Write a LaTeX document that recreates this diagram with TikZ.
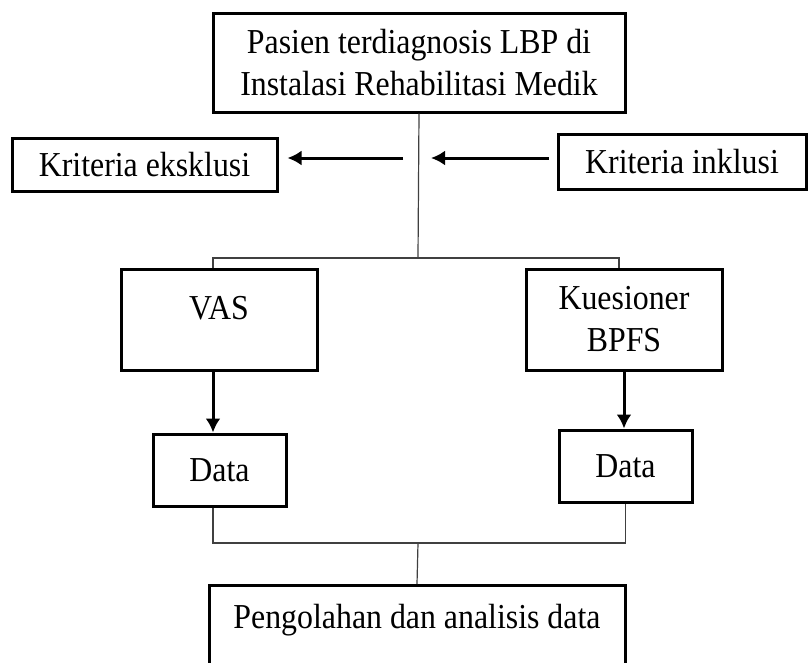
\documentclass[tikz,border=0pt]{standalone}
\usepackage{fontspec}
\setmainfont[FakeStretch=0.91]{Liberation Serif}
\usepackage{tikz}
\usetikzlibrary{shapes,arrows,positioning,calc}
\usetikzlibrary{arrows.meta}
\tikzset{>={Latex[width=15pt,length=14pt]}}

\begin{document}
\begin{tikzpicture}[x=1pt, y=-1pt, every node/.style={text centered, rectangle, draw, line width=3pt, align=center, font=\fontsize{35}{42}\selectfont}, thin line/.style={line width=1.2pt, black!75}, panah/.style={-{Latex[width=15pt,length=14pt]}, line width=3pt}]
    \clip (0,0) rectangle (812,662);
    \node[minimum width=412, minimum height=99] (pasien) at (419,62.5) {Pasien terdiagnosis LBP di\\Instalasi Rehabilitasi Medik};
    \node[minimum width=265, minimum height=53] (eksklusi) at (144.5,164.5) {Kriteria eksklusi};
    \node[minimum width=248, minimum height=55] (inklusi) at (682,161.5) {Kriteria inklusi};
    \node[minimum width=196, minimum height=101, text height=23pt, text depth=23pt] (vas) at (219,319.5) {VAS};
    \node[minimum width=196, minimum height=101] (bpfs) at (624,319.5) {Kuesioner\\BPFS};
    \node[minimum width=133, minimum height=72] (data0) at (219.5,470) {Data};
    \node[minimum width=133, minimum height=72] (data1) at (625.5,466) {Data};
    \node[anchor=north, minimum width=416, inner ysep=19pt, text height=24pt, text depth=80pt] (olah) at (417,584) {Pengolahan dan analisis data};

    \coordinate (cabang) at (418,258);
    \coordinate (kiri) at (213,258);
    \coordinate (kanan) at (619,258);
    \coordinate (gabung) at (418,543);
    \coordinate (ekor0) at (403,158);
    \coordinate (ujung1) at (431,158);

    \draw[thin line] (pasien.south) -- (cabang);
    \draw[thin line] (kiri |- vas.north) -- (kiri) -- (kanan) -- (kanan |- bpfs.north);
    \draw[panah, shorten >=9pt] (ekor0) -- (ekor0 -| eksklusi.east);
    \draw[panah, shorten <=8pt] (ujung1 -| inklusi.west) -- (ujung1);
    \draw[panah] (kiri |- vas.south) -- (kiri |- data0.north);
    \draw[panah] (bpfs.south) -- (bpfs.south |- data1.north);
    \draw[thin line] (kiri |- data0.south) -- (kiri |- gabung) -- (data1.south |- gabung) -- (data1.south);
    \draw[thin line] (gabung) -- (olah.north);
\end{tikzpicture}
\end{document}
